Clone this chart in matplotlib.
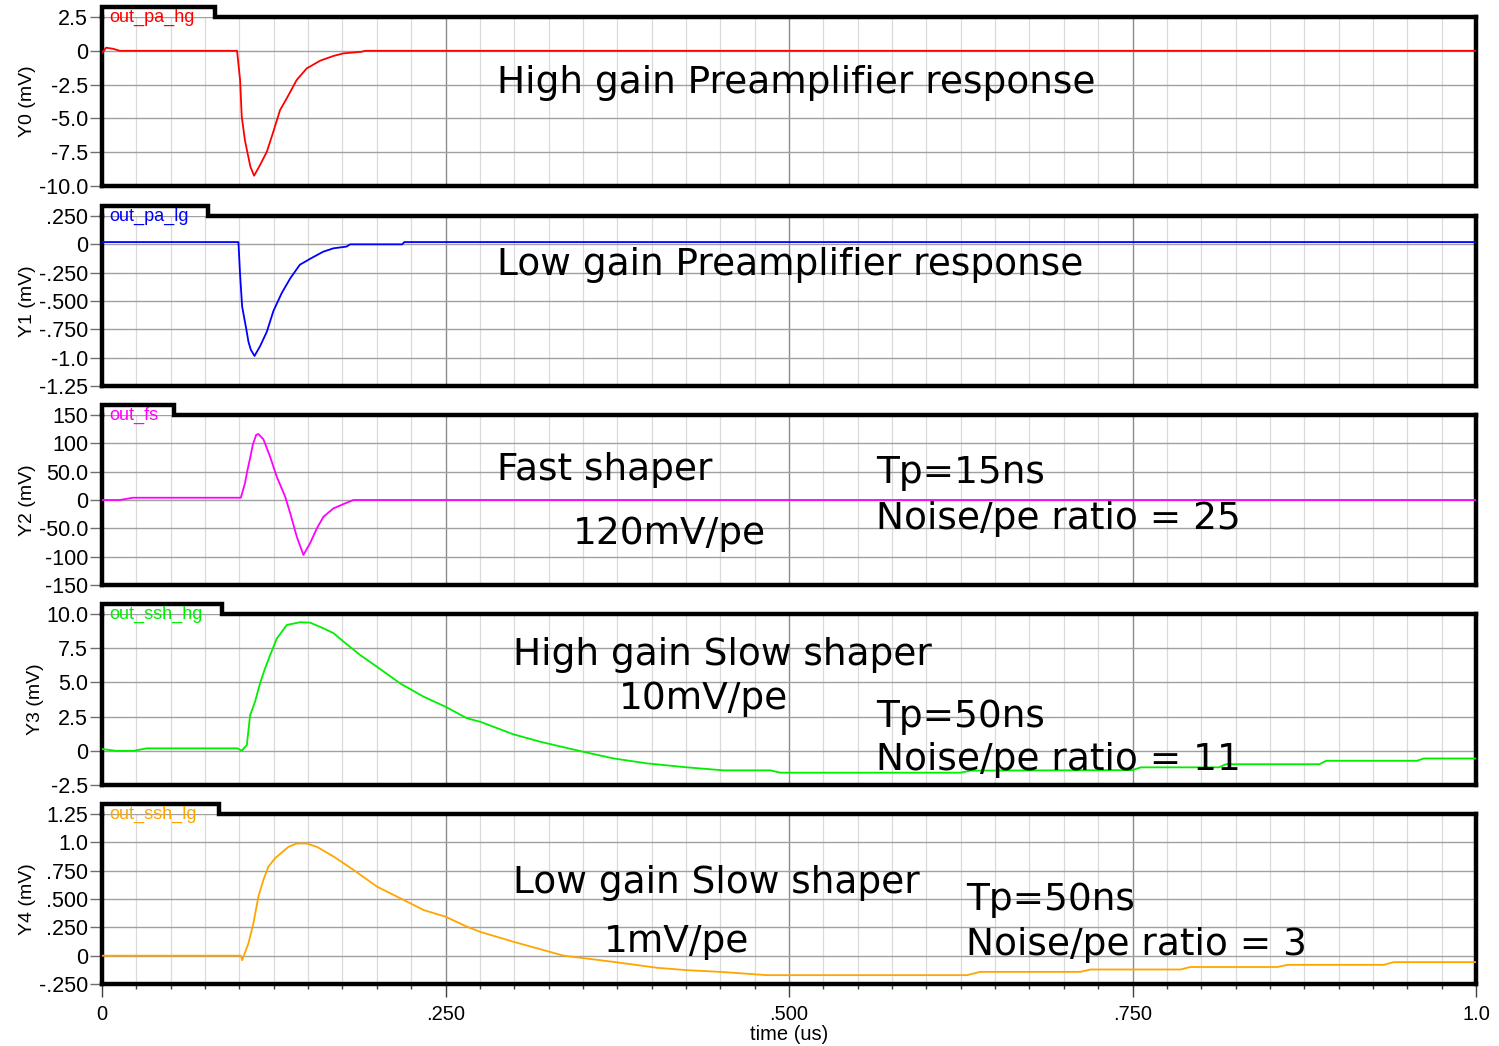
import matplotlib
matplotlib.use('Agg')
import matplotlib.pyplot as plt
from matplotlib.ticker import MultipleLocator, FixedLocator

plt.rcParams['font.family'] = ['Liberation Sans', 'DejaVu Sans']

W, H = 1499, 1046

# ---- data (time in us, values in mV) ----
t_pa_hg = [0, 0.003, 0.008, 0.013, 0.0983, 0.1005, 0.1017, 0.104, 0.106, 0.108, 0.1107,
           0.115, 0.12, 0.1247, 0.1296, 0.1345, 0.1417, 0.149, 0.1588, 0.1685, 0.1757,
           0.189, 0.1915, 1.0]
v_pa_hg = [-0.15, 0.23, 0.15, 0, 0, -2.16, -4.87, -6.6, -7.6, -8.57, -9.24,
           -8.45, -7.46, -5.98, -4.38, -3.51, -2.16, -1.3, -0.73, -0.38, -0.19,
           -0.07, 0, 0]

t_pa_lg = [0, 0.0993, 0.1005, 0.102, 0.1049, 0.1066, 0.1083, 0.111, 0.115, 0.12, 0.1247,
           0.1308, 0.137, 0.144, 0.1526, 0.161, 0.1685, 0.178, 0.1806, 0.2185, 0.2200, 1.0]
v_pa_lg = [0.02, 0.02, -0.27, -0.55, -0.74, -0.86, -0.93, -0.985, -0.90, -0.77, -0.59,
           -0.43, -0.30, -0.18, -0.12, -0.065, -0.035, -0.02, 0, 0, 0.02, 0.02]

t_fs = [0, 0.013, 0.0226, 0.101, 0.104, 0.1059, 0.1078, 0.1097, 0.1122, 0.1138, 0.1175,
        0.1224, 0.1272, 0.1333, 0.137, 0.1418, 0.1466, 0.1515, 0.1564, 0.1612, 0.1685,
        0.177, 0.183, 1.0]
v_fs = [0, 0, 4, 4, 29, 53, 74, 97, 115, 116.5, 107,
        76, 41, 6, -23.5, -65, -97, -76, -50, -29.5, -14.7,
        -5.9, 0, 0]

t_ssh_hg = [0, 0.01, 0.023, 0.0326, 0.0986, 0.1017, 0.1054, 0.1078, 0.1114, 0.115, 0.1187,
            0.1224, 0.1272, 0.1345, 0.1442, 0.1515, 0.1612, 0.1685, 0.1758, 0.1879, 0.2,
            0.217, 0.234, 0.25, 0.2656, 0.2753, 0.2996, 0.319, 0.348, 0.3724, 0.3967,
            0.4258, 0.4525, 0.4865, 0.4938, 0.6249, 0.632, 0.750, 0.756, 0.813, 0.818,
            0.886, 0.891, 0.957, 0.962, 1.0]
v_ssh_hg = [0.13, 0.0, 0.0, 0.18, 0.18, 0.0, 0.42, 2.6, 3.6, 4.93, 6.03,
            7.0, 8.2, 9.2, 9.4, 9.37, 8.95, 8.6, 7.98, 7.0, 6.15,
            4.93, 3.96, 3.22, 2.38, 2.12, 1.2, 0.66, -0.02, -0.56, -0.92,
            -1.21, -1.43, -1.43, -1.6, -1.6, -1.45, -1.41, -1.21, -1.21, -0.98,
            -0.98, -0.73, -0.73, -0.56, -0.56]

t_ssh_lg = [0, 0.101, 0.102, 0.1066, 0.1102, 0.1138, 0.1175, 0.1211, 0.126, 0.1357, 0.1418,
            0.149, 0.1564, 0.1685, 0.183, 0.2, 0.217, 0.234, 0.25, 0.2656, 0.2753,
            0.2996, 0.336, 0.3724, 0.404, 0.4258, 0.45, 0.4841, 0.6297, 0.639, 0.712,
            0.7196, 0.785, 0.792, 0.8555, 0.8628, 0.933, 0.94, 1.0]
v_ssh_lg = [0, 0, -0.04, 0.11, 0.286, 0.52, 0.67, 0.785, 0.86, 0.96, 0.99,
            0.99, 0.96, 0.875, 0.757, 0.61, 0.507, 0.403, 0.344, 0.256, 0.21,
            0.122, 0.0, -0.055, -0.107, -0.128, -0.143, -0.172, -0.172, -0.143, -0.143,
            -0.122, -0.122, -0.1, -0.1, -0.081, -0.081, -0.057, -0.057]

names = ['out_pa_hg', 'out_pa_lg', 'out_fs', 'out_ssh_hg', 'out_ssh_lg']
colors = ['#ff0000', '#0000ff', '#ff00ff', '#00ee00', '#ffa500']
ylabels = ['Y0 (mV)', 'Y1 (mV)', 'Y2 (mV)', 'Y3 (mV)', 'Y4 (mV)']
series = [(t_pa_hg, v_pa_hg), (t_pa_lg, v_pa_lg), (t_fs, v_fs),
          (t_ssh_hg, v_ssh_hg), (t_ssh_lg, v_ssh_lg)]

yticks = [
    [2.5, 0, -2.5, -5.0, -7.5, -10.0],
    [0.25, 0, -0.25, -0.5, -0.75, -1.0, -1.25],
    [150, 100, 50, 0, -50, -100, -150],
    [10.0, 7.5, 5.0, 2.5, 0, -2.5],
    [1.25, 1.0, 0.75, 0.5, 0.25, 0, -0.25],
]
ytick_labels = [
    ['2.5', '0', '-2.5', '-5.0', '-7.5', '-10.0'],
    ['.250', '0', '-.250', '-.500', '-.750', '-1.0', '-1.25'],
    ['150', '100', '50.0', '0', '-50.0', '-100', '-150'],
    ['10.0', '7.5', '5.0', '2.5', '0', '-2.5'],
    ['1.25', '1.0', '.750', '.500', '.250', '0', '-.250'],
]
xticks = [0, 0.25, 0.5, 0.75, 1.0]
xtick_labels = ['0', '.250', '.500', '.750', '1.0']

# annotations: (text, x px, baseline y px)
notes = [
    ('High gain Preamplifier response', 497, 93),
    ('Low gain Preamplifier response', 497, 275),
    ('Fast shaper', 497, 480),
    ('120mV/pe', 573, 544),
    ('Tp=15ns', 876, 483),
    ('Noise/pe ratio = 25', 876, 529),
    ('High gain Slow shaper', 513, 665),
    ('10mV/pe', 619, 709),
    ('Tp=50ns', 876, 727),
    ('Noise/pe ratio = 11', 876, 770),
    ('Low gain Slow shaper', 513, 893),
    ('1mV/pe', 604, 952),
    ('Tp=50ns', 966, 910),
    ('Noise/pe ratio = 3', 966, 955),
]

# layout (pixels)
left_px, right_px = 102, 1476
tops = [17, 216, 415, 614, 814]
bots = [186, 386, 585, 785, 984]
tab_right = [215, 208, 174, 222, 219]
ylab_x = [36, 36, 36, 44, 36]

fig = plt.figure(figsize=(W / 100, H / 100), dpi=100)

for i in range(5):
    ax = fig.add_axes([left_px / W, 1 - bots[i] / H,
                       (right_px - left_px) / W, (bots[i] - tops[i]) / H])
    t, v = series[i]
    ax.plot(t, v, color=colors[i], lw=1.3, zorder=3)
    ax.set_xlim(0, 1.0)
    ax.set_ylim(yticks[i][-1], yticks[i][0])
    ax.yaxis.set_major_locator(FixedLocator(yticks[i]))
    ax.set_yticklabels(ytick_labels[i], fontsize=15.5)
    ax.xaxis.set_major_locator(FixedLocator(xticks))
    ax.xaxis.set_minor_locator(MultipleLocator(0.025))
    ax.grid(which='minor', axis='x', color='#dadada', lw=0.9, zorder=0)
    ax.grid(which='major', axis='x', color='#8c8c8c', lw=1.0, zorder=0)
    ax.grid(which='major', axis='y', color='#a0a0a0', lw=1.0, zorder=0)
    ax.tick_params(axis='y', length=9, width=1, color='#707070', pad=1)

    if i < 4:
        ax.tick_params(axis='x', which='both', length=0, labelbottom=False)
    else:
        ax.set_xticklabels(xtick_labels, fontsize=14.5)
        ax.tick_params(axis='x', which='major', length=9, width=1, color='#404040', pad=6)
        ax.tick_params(axis='x', which='minor', length=3.5, width=1, color='#404040')
        ax.set_xlabel('time (us)', fontsize=14.5, labelpad=1)

    for s in ['left', 'right', 'bottom']:
        ax.spines[s].set_linewidth(3.2)
        ax.spines[s].set_color('black')
    ax.spines['top'].set_visible(False)

    # label tab above the frame
    h = bots[i] - tops[i]
    tab_h = 10 / h
    tr = (tab_right[i] - left_px) / (right_px - left_px)
    ax.plot([0, 0, tr, tr, 1], [1, 1 + tab_h, 1 + tab_h, 1, 1],
            transform=ax.transAxes, color='black', lw=3.2, clip_on=False,
            solid_joinstyle='miter', zorder=5)
    ax.text(0.005, 1 - 4.7 / h, names[i], transform=ax.transAxes,
            color=colors[i], fontsize=13, va='baseline', ha='left', zorder=6)

    ax.yaxis.set_label_coords((ylab_x[i] - left_px) / (right_px - left_px), 0.5)
    ax.set_ylabel(ylabels[i], fontsize=14)

for s, x, y in notes:
    fig.text(x / W, 1 - y / H, s, fontsize=27, family='DejaVu Sans',
             va='baseline', ha='left', color='black')

fig.savefig('out.png', dpi=100)
